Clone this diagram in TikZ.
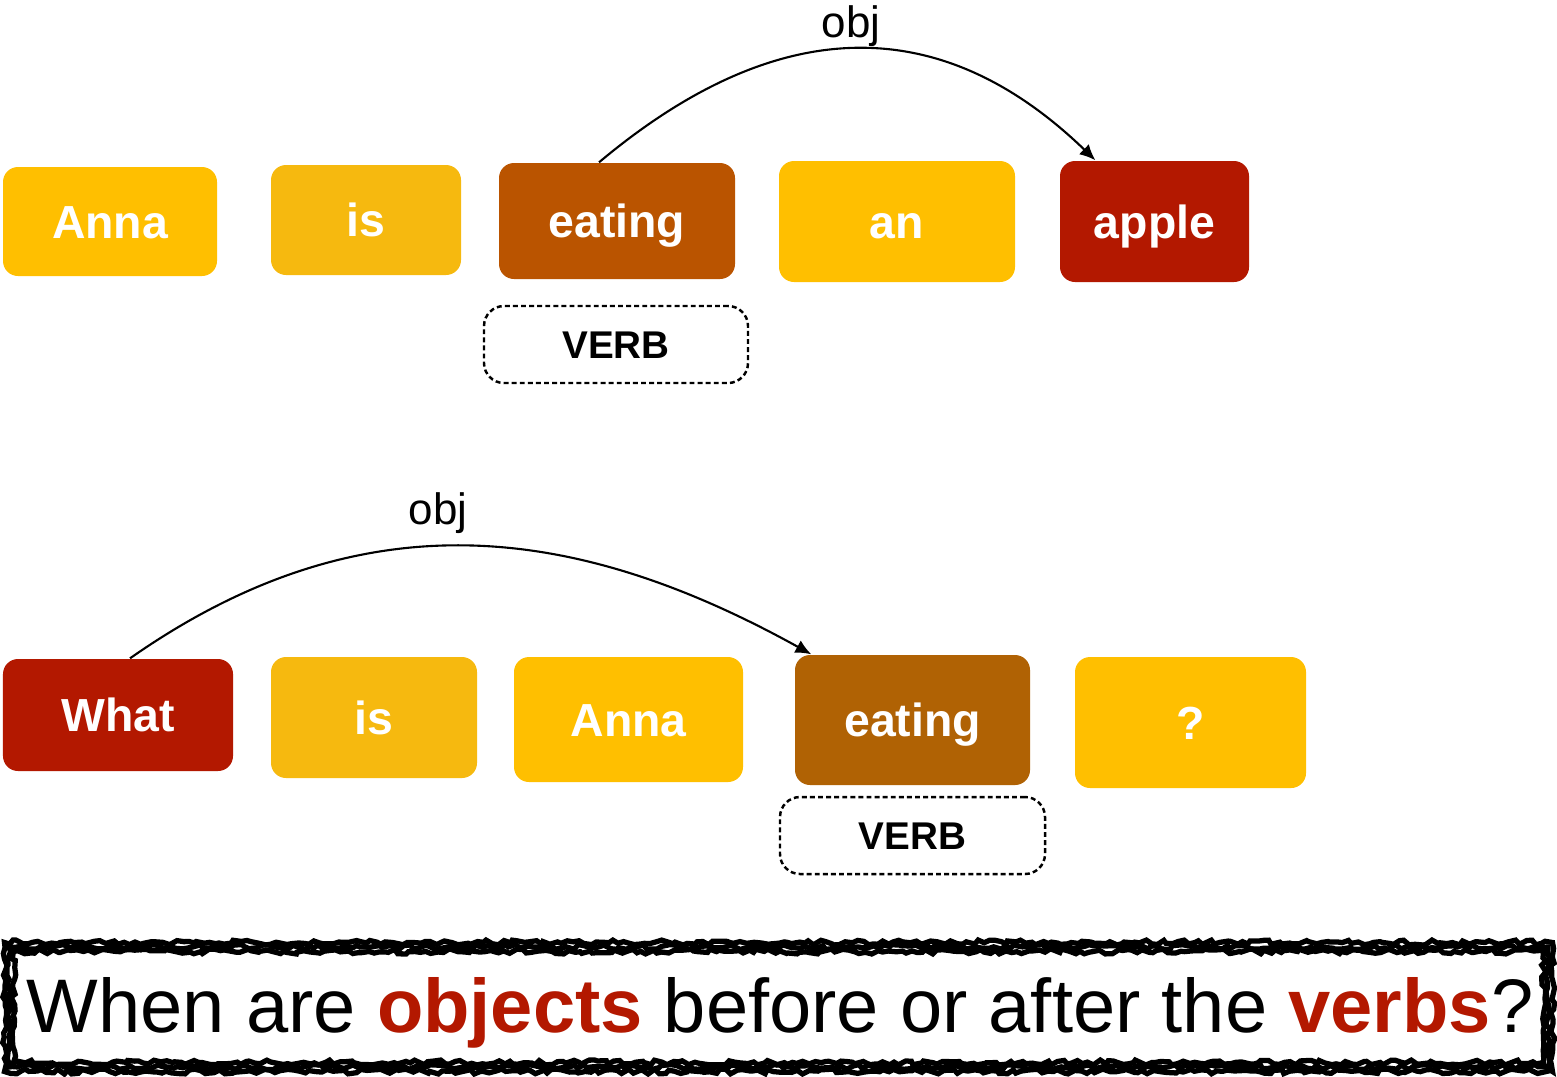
\documentclass[tikz,border=0pt]{standalone}
\usepackage{fontspec}
\setmainfont{Liberation Sans}
\usepackage{tikz}
\usetikzlibrary{arrows.meta,decorations.pathmorphing}
\definecolor{gold}{HTML}{FFBF00}
\definecolor{isgold}{HTML}{F6B90F}
\definecolor{verbA}{HTML}{BA5400}
\definecolor{verbB}{HTML}{B06204}
\definecolor{objred}{HTML}{B31800}
\newcommand{\obj}[1]{\textbf{\textcolor{objred}{#1}}}
\tikzset{>={Latex[length=4.5pt,width=4pt]}}
\tikzset{
  word/.style={rounded corners=0.15cm, inner sep=0pt, text=white,
    font=\fontsize{13.2}{15}\selectfont\bfseries, text height=0.95em, text depth=0pt},
  tag/.style={draw, line width=0.7pt, dash pattern=on 1.4pt off 0.9pt, rounded corners=0.2cm,
    minimum width=2.64cm, minimum height=0.77cm, inner sep=0pt,
    font=\fontsize{11}{13}\selectfont\bfseries, text height=0.8em, text depth=0pt},
  arc/.style={->, line width=0.6pt},
  lbl/.style={font=\fontsize{12.5}{14}\selectfont},
  rough/.style={line width=1.5pt, decorate, decoration={random steps, segment length=1.5pt, amplitude=0.7pt}}
}

\begin{document}
\begin{tikzpicture}
  \useasboundingbox (0,0) rectangle (15.57,-10.76);

  % first sentence
  \node[word, fill=gold, minimum width=2.14cm, minimum height=1.09cm] (anna1) at (1.10,-2.215) {Anna};
  \node[word, fill=isgold, minimum width=1.90cm, minimum height=1.10cm] (is1) at (3.66,-2.20) {is};
  \node[word, fill=verbA, minimum width=2.36cm, minimum height=1.16cm] (eat1) at (6.17,-2.21) {eating};
  \node[word, fill=gold, minimum width=2.36cm, minimum height=1.21cm] (an1) at (8.97,-2.215) {an};
  \node[word, fill=objred, minimum width=1.89cm, minimum height=1.21cm] (apple1) at (11.545,-2.215) {apple};
  \node[tag] (verb1) at (6.16,-3.445) {VERB};

  \draw[arc] (eat1.107) to[out=40,in=136,looseness=1.15] node[lbl, above=-3pt] (obj1) {obj} (apple1.134);

  % second sentence
  \node[word, fill=objred, minimum width=2.30cm, minimum height=1.12cm] (what2) at (1.18,-7.15) {What};
  \node[word, fill=isgold, minimum width=2.06cm, minimum height=1.21cm] (is2) at (3.74,-7.175) {is};
  \node[word, fill=gold, minimum width=2.29cm, minimum height=1.25cm] (anna2) at (6.285,-7.195) {Anna};
  \node[word, fill=verbB, minimum width=2.35cm, minimum height=1.30cm] (eat2) at (9.125,-7.20) {eating};
  \node[word, fill=gold, minimum width=2.31cm, minimum height=1.31cm] (qm2) at (11.905,-7.225) {?};
  \node[tag, minimum width=2.65cm] (verb2) at (9.125,-8.355) {VERB};

  \draw[arc] (what2.78) to[out=35,in=151,looseness=1.04] node[lbl, above=0pt, pos=0.46] (obj2) {obj} (eat2.147);

  % question
  \pgfmathsetseed{7}
  \foreach \d in {-0.045,0,0.045}
    \draw[rough] (0.09+\d,-9.47-\d) rectangle (15.48-\d,-10.67+\d);
  \node[font=\fontsize{21.6}{24}\selectfont] (quest) at (7.80,-10.13)
    {When are \obj{objects} before or after the \obj{verbs}?};
\end{tikzpicture}
\end{document}
